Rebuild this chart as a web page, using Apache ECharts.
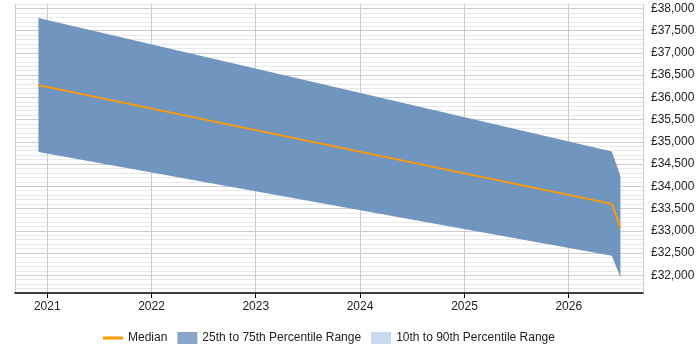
<!DOCTYPE html>
<html>
<head>
<meta charset="utf-8">
<script src="https://cdn.jsdelivr.net/npm/echarts@6/dist/echarts.min.js"></script>
<style>
  html, body { margin: 0; padding: 0; background: #fff; }
  #chart { width: 700px; height: 350px; }
</style>
</head>
<body>
<div id="chart"></div>
<script>
// 数据
const dates = ['2020-12-01', '2026-06-01', '2026-07-01']
const p25 = [34770, 32435, 31950]
const p75 = [37785, 34780, 34230]
const median = [36275, 33605, 33070]

const myChart = echarts.init(document.getElementById('chart'))

const bandColor = '#7096bf'
const font = 'Liberation Sans, Arial, sans-serif'

const options = {
  animation: false,
  grid: { left: 15, right: 57, top: 4, bottom: 57 },
  legend: {
    left: 98,
    top: 327,
    itemWidth: 20,
    itemHeight: 12,
    itemGap: 10,
    textStyle: { fontSize: 12, color: '#222', fontFamily: font },
    data: [
      { name: 'Median', icon: 'path://M0,5 L20,5 L20,8 L0,8 Z', itemStyle: { color: '#f90' } },
      { name: '25th to 75th Percentile Range', icon: 'rect', itemStyle: { color: '#87a6c8' } },
      { name: '10th to 90th Percentile Range', icon: 'rect', itemStyle: { color: '#c8daee' } },
    ],
  },
  xAxis: {
    type: 'time',
    min: '2020-09-10',
    max: '2026-09-18',
    minInterval: 365 * 24 * 3600 * 1000,
    axisLine: { lineStyle: { color: '#000', width: 1.5 } },
    axisTick: { show: true, length: 5, lineStyle: { color: '#000' } },
    axisLabel: { formatter: '{yyyy}', color: '#222', fontSize: 12, fontFamily: font, margin: 8 },
    splitLine: { show: true, lineStyle: { color: '#ccc' } },
  },
  yAxis: {
    type: 'value',
    position: 'right',
    min: 31600,
    max: 38100,
    interval: 100,
    axisLine: { show: false },
    axisTick: { show: false },
    axisLabel: {
      color: '#222',
      fontSize: 12,
      fontFamily: font,
      margin: 8,
      formatter: (v) => (v % 500 === 0 ? '£' + v.toLocaleString('en-GB') : ''),
    },
    // 每500一条深色线，其余为浅色
    splitLine: {
      lineStyle: { color: ['#e8e8e8', '#e8e8e8', '#e8e8e8', '#e8e8e8', '#cccccc'] },
    },
  },
  series: [
    {
      name: 'base',
      type: 'line',
      stack: 'band',
      symbol: 'none',
      lineStyle: { opacity: 0 },
      data: dates.map((d, i) => [d, p25[i]]),
      silent: true,
    },
    {
      name: '25th to 75th Percentile Range',
      type: 'line',
      stack: 'band',
      symbol: 'none',
      lineStyle: { opacity: 0 },
      areaStyle: { color: bandColor, opacity: 1 },
      itemStyle: { color: bandColor },
      data: dates.map((d, i) => [d, p75[i] - p25[i]]),
    },
    {
      name: '10th to 90th Percentile Range',
      type: 'line',
      symbol: 'none',
      itemStyle: { color: '#c8daee' },
      data: [],
    },
    {
      name: 'Median',
      type: 'line',
      symbol: 'none',
      lineStyle: { color: '#f90', width: 2 },
      itemStyle: { color: '#f90' },
      data: dates.map((d, i) => [d, median[i]]),
      z: 5,
    },
  ],
}

myChart.setOption(options)
</script>
</body>
</html>
